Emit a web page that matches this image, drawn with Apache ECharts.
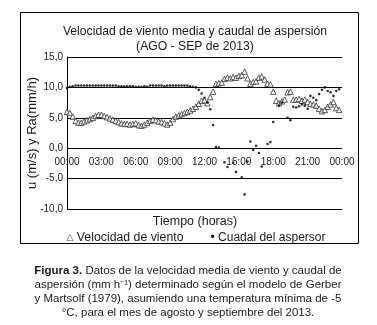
<!DOCTYPE html>
<html>
<head>
<meta charset="utf-8">
<script src="https://cdn.jsdelivr.net/npm/echarts@6/dist/echarts.min.js"></script>
<style>
  html, body { margin: 0; padding: 0; background: #fff; }
  #chart { width: 377px; height: 325px; }
</style>
</head>
<body>
<div id="chart"></div>
<script>
// Sampling grid: every 15 minutes over one day, plus the closing 00:00 tick
const times = [];
for (let m = 0; m <= 24 * 60; m += 15) {
  const h = Math.floor(m / 60) % 24, mm = m % 60;
  times.push(String(h).padStart(2, '0') + ':' + String(mm).padStart(2, '0'));
}

// Mean wind speed (m/s), 15-minute steps from 00:00
const windSpeed = [
  6.0, 5.8, 5.2, 4.5, 4.2, 4.2, 4.4, 4.6, 4.8, 5.0, 5.3, 5.5,
  5.5, 5.3, 5.1, 4.9, 4.7, 4.5, 4.3, 4.1, 4.0, 4.0, 3.9, 4.0,
  4.1, 3.8, 3.7, 3.9, 4.2, 4.5, 4.7, 4.6, 4.4, 4.3, 4.1, 3.9,
  4.2, 4.8, 5.2, 5.4, 5.6, 5.8, 6.0, 6.2, 6.5, 6.8, 7.3, 7.8,
  7.9, 7.4, 8.4, 9.3, 10.6, 10.7, 10.8, 11.4, 11.6, 11.5, 11.7, 11.6,
  11.9, 12.0, 12.6, 11.5, 10.6, 10.9, 11.0, 11.6, 11.8, 11.3, 10.6, 10.5,
  9.3, 7.8, 7.4, 7.7, 8.0, 9.2, 9.3, 8.0, 8.0, 8.1, 7.8, 8.0,
  7.6, 7.3, 7.2, 7.0, 6.5, 6.1, 6.3, 6.8, 7.2, 7.6, 6.6, 6.3
];

// Sprinkler application rate (mm/h), 15-minute steps from 00:00
const sprinklerRate = [
  9.9, 10.1, 10.2, 10.3, 10.3, 10.3, 10.3, 10.3, 10.3, 10.3, 10.3, 10.3,
  10.3, 10.3, 10.3, 10.3, 10.3, 10.3, 10.2, 10.2, 10.2, 10.2, 10.2, 10.2,
  10.1, 10.1, 10.1, 10.2, 10.1, 10.3, 10.3, 10.3, 10.3, 10.3, 10.2, 10.3,
  10.3, 10.3, 10.3, 10.3, 10.3, 10.3, 10.3, 10.2, 10.1, 10.0, 9.6, 9.0,
  8.3, 7.5, 6.4, 3.8, 0.2, 0.1, null, -2.3, -3.1, null, -2.4, -3.9,
  null, -4.8, -7.6, -2.2, 1.1, -0.3, 0.4, -0.8, -3.0, null, 0.7, 1.0,
  4.3, null, 7.0, 7.5, null, 5.0, 4.6, 6.8, 6.7, 6.9, 7.2, 7.0,
  6.5, 8.6, 8.3, 7.9, 8.9, 9.6, 10.0, 9.4, 9.2, 8.6, 9.4, 9.7
];

// Value axis range and tick step
const yMin = -10, yMax = 15, yStep = 5;

// Plot box (px)
const gridTop = 57, gridBottom = 116, chartH = 325;
// Time labels sit on the zero line: shift the category axis up from the plot bottom
const plotH = chartH - gridTop - gridBottom;
const zeroShift = plotH * (0 - yMin) / (yMax - yMin);

const FONT = 'Liberation Sans, Arial, sans-serif';
const INK = '#1a1a1a';

const chart = echarts.init(document.getElementById('chart'), null, { renderer: 'canvas' });

chart.setOption({
  animation: false,
  backgroundColor: '#fff',
  textStyle: { fontFamily: FONT, color: INK },
  title: {
    text: 'Velocidad de viento media y caudal de aspersión\n(AGO - SEP de 2013)',
    left: 190, top: 19, textAlign: 'center',
    textStyle: { fontFamily: FONT, fontSize: 12.2, fontWeight: 'normal', color: INK, lineHeight: 15 }
  },
  grid: { left: 67, right: 35, top: gridTop, bottom: gridBottom },
  xAxis: {
    type: 'category',
    data: times,
    boundaryGap: false,
    offset: -zeroShift,
    axisLine: { show: false, onZero: false },
    axisTick: { show: false },
    axisLabel: {
      interval: 11, fontSize: 10, color: INK, fontFamily: FONT, margin: 9
    },
    splitLine: { show: false }
  },
  yAxis: {
    type: 'value',
    min: yMin, max: yMax, interval: yStep,
    name: 'u (m/s) y Ra(mm/h)',
    nameLocation: 'middle',
    nameGap: 28,
    nameMoveOverlap: false,
    nameTextStyle: { fontSize: 13, color: INK, fontFamily: FONT },
    axisLine: { show: true, onZero: false, lineStyle: { color: '#000', width: 1 } },
    axisTick: { show: false },
    axisLabel: {
      fontSize: 10, color: INK, fontFamily: FONT, margin: 4,
      formatter: v => v.toFixed(1).replace('.', ',')
    },
    splitLine: { show: true, lineStyle: { color: '#000', width: 1 } }
  },
  series: [
    {
      name: 'Velocidad de viento',
      type: 'scatter',
      data: windSpeed,
      symbol: 'triangle',
      symbolSize: 5.5,
      itemStyle: { color: '#fff', borderColor: '#333', borderWidth: 1 },
      z: 3
    },
    {
      name: 'Cuadal del aspersor',
      type: 'scatter',
      data: sprinklerRate,
      symbol: 'circle',
      symbolSize: 2.6,
      itemStyle: { color: '#000' },
      z: 4
    }
  ],
  graphic: [
    {
      type: 'rect',
      shape: { x: 20.5, y: 12.5, width: 338, height: 231 },
      style: { fill: 'none', stroke: '#000', lineWidth: 1 },
      silent: true
    },
    {
      type: 'text',
      x: 195, y: 222,
      style: {
        text: 'Tiempo (horas)', fontFamily: FONT, fontSize: 12.5, fill: INK,
        align: 'center', verticalAlign: 'middle'
      }
    },
    {
      type: 'text',
      x: 125, y: 238,
      style: {
        text: '{i|△} Velocidad de viento', fontFamily: FONT, fontSize: 12.3, fill: INK,
        align: 'center', verticalAlign: 'middle',
        rich: { i: { fontSize: 9, fill: '#444', fontFamily: 'DejaVu Sans' } }
      }
    },
    {
      type: 'text',
      x: 268, y: 238,
      style: {
        text: '{i|•} Cuadal del aspersor', fontFamily: FONT, fontSize: 12, fill: INK,
        align: 'center', verticalAlign: 'middle',
        rich: { i: { fontSize: 12, fill: '#111' } }
      }
    },
    {
      type: 'text',
      x: 188, y: 264,
      style: {
        text: '{b|Figura 3.} Datos de la velocidad media de viento y caudal de\n' +
              'aspersión (mm h⁻¹) determinado según el modelo de Gerber\n' +
              'y Martsolf (1979), asumiendo una temperatura mínima de -5\n' +
              '°C, para el mes de agosto y septiembre del 2013.',
        fontFamily: FONT, fontSize: 11.5, fill: INK, lineHeight: 14,
        align: 'center', verticalAlign: 'top',
        rich: { b: { fontWeight: 'bold', fontSize: 11.5, fontFamily: FONT, fill: INK, lineHeight: 14 } }
      }
    }
  ]
});
</script>
</body>
</html>
